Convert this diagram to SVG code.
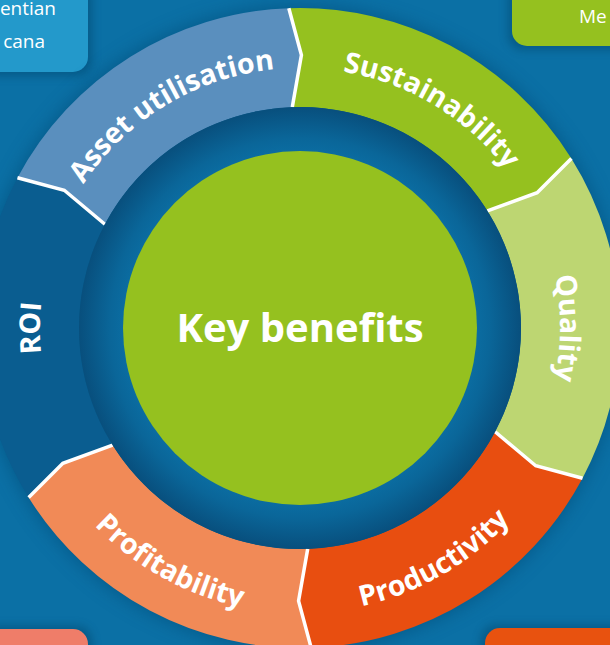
<svg xmlns="http://www.w3.org/2000/svg" width="610" height="645" viewBox="0 0 610 645">
<defs>
<style>
.lbl{font-family:"Open Sans","Noto Sans","Liberation Sans",sans-serif;font-weight:700;fill:#fff;font-size:28.5px}
.small{font-family:"Open Sans","Noto Sans","Liberation Sans",sans-serif;font-weight:400;fill:#fff;font-size:19px}
.sep{fill:none;stroke:#fff;stroke-width:3.5;stroke-linejoin:miter}
</style>
<radialGradient id="band" cx="300" cy="328" r="221" gradientUnits="userSpaceOnUse">
<stop offset="0.78" stop-color="#0b6ea3"/>
<stop offset="0.86" stop-color="#0a6699"/>
<stop offset="1" stop-color="#084f7d"/>
</radialGradient>
<filter id="blur" x="-20%" y="-20%" width="140%" height="140%"><feGaussianBlur stdDeviation="9"/></filter>
<filter id="bshadow" x="-30%" y="-30%" width="160%" height="160%"><feGaussianBlur stdDeviation="5"/></filter>
<path id="pAsset" d="M 40.04 332.54 A 260 260 0 0 1 426.05 100.60"/>
<path id="pSust" d="M 173.95 100.60 A 260 260 0 0 1 559.96 332.54"/>
<path id="pQual" d="M 430 102.83 A 260 260 0 0 1 430 553.17"/>
<path id="pROI" d="M 170 553.17 A 260 260 0 0 1 170 102.83"/>
<path id="pProd" d="M 157.5 574.82 A 285 285 0 0 0 585 328"/>
<path id="pProf" d="M 15.04 332.97 A 285 285 0 0 0 446.79 572.29"/>
</defs>
<rect x="0" y="0" width="610" height="645" fill="#0b70a5"/>

<g id="corner-boxes">
<g opacity="0.45" filter="url(#bshadow)" fill="#063f63">
<rect x="-20" y="-20" width="112" height="96" rx="15"/>
<rect x="508" y="-20" width="130" height="70" rx="15"/>
<rect x="-20" y="626" width="112" height="60" rx="15"/>
<rect x="481" y="625" width="160" height="60" rx="15"/>
</g>
<g id="box-tl"><rect x="-20" y="-20" width="108" height="92" rx="15" fill="#2399cb"/>
<text class="small" x="56" y="15" text-anchor="end">entian</text>
<text class="small" x="45" y="48" text-anchor="end">cana</text></g>
<g id="box-tr"><rect x="512" y="-20" width="120" height="66" rx="15" fill="#95c11f"/>
<text class="small" x="579" y="23">Me</text></g>
<g id="box-bl"><rect x="-20" y="629" width="108" height="60" rx="15" fill="#ef7d69"/></g>
<g id="box-br"><rect x="485" y="628" width="150" height="60" rx="15" fill="#e8520f"/></g>
</g>

<circle cx="300" cy="328" r="322" fill="#064a75" opacity="0.55" filter="url(#blur)"/>

<g id="seg-asset">
<path d="M 17.46 177.77 A 320 320 0 0 1 288.83 8.20 L 301.43 55.00 L 292.29 107.13 A 221 221 0 0 0 104.87 224.25 L 64.29 190.26 Z" fill="#5a8fbe"/>
<text class="lbl"><textPath href="#pAsset" startOffset="50%" text-anchor="middle">Asset utilisation</textPath></text>
</g>
<g id="seg-sustainability">
<path d="M 288.83 8.20 A 320 320 0 0 1 571.38 158.43 L 537.14 192.74 L 487.42 210.89 A 221 221 0 0 0 292.29 107.13 L 301.43 55.00 Z" fill="#95c11f"/>
<text class="lbl"><textPath href="#pSust" startOffset="50%" text-anchor="middle">Sustainability</textPath></text>
</g>
<g id="seg-quality">
<path d="M 571.38 158.43 A 320 320 0 0 1 582.54 478.23 L 535.71 465.74 L 495.13 431.75 A 221 221 0 0 0 487.42 210.89 L 537.14 192.74 Z" fill="#bdd672"/>
<text class="lbl"><textPath href="#pQual" startOffset="50%" text-anchor="middle">Quality</textPath></text>
</g>
<g id="seg-productivity">
<path d="M 582.54 478.23 A 320 320 0 0 1 311.17 647.80 L 298.57 601.00 L 307.71 548.87 A 221 221 0 0 0 495.13 431.75 L 535.71 465.74 Z" fill="#e84e10"/>
<text class="lbl"><textPath href="#pProd" startOffset="50%" text-anchor="middle">Productivity</textPath></text>
</g>
<g id="seg-profitability">
<path d="M 311.17 647.80 A 320 320 0 0 1 28.62 497.57 L 62.86 463.26 L 112.58 445.11 A 221 221 0 0 0 307.71 548.87 L 298.57 601.00 Z" fill="#f18a57"/>
<text class="lbl"><textPath href="#pProf" startOffset="50%" text-anchor="middle">Profitability</textPath></text>
</g>
<g id="seg-roi">
<path d="M 28.62 497.57 A 320 320 0 0 1 17.46 177.77 L 64.29 190.26 L 104.87 224.25 A 221 221 0 0 0 112.58 445.11 L 62.86 463.26 Z" fill="#0a5d90"/>
<text class="lbl"><textPath href="#pROI" startOffset="50%" text-anchor="middle">ROI</textPath></text>
</g>

<g id="separators">
<polyline class="sep" points="582.54,478.23 535.71,465.74 495.13,431.75"/>
<polyline class="sep" points="311.17,647.80 298.57,601.00 307.71,548.87"/>
<polyline class="sep" points="28.62,497.57 62.86,463.26 112.58,445.11"/>
<polyline class="sep" points="17.46,177.77 64.29,190.26 104.87,224.25"/>
<polyline class="sep" points="288.83,8.20 301.43,55.00 292.29,107.13"/>
<polyline class="sep" points="571.38,158.43 537.14,192.74 487.42,210.89"/>
</g>

<g id="center">
<circle cx="300" cy="328" r="221" fill="url(#band)"/>
<circle cx="300" cy="328" r="177" fill="#95c11f"/>
<text x="300" y="342" text-anchor="middle" font-family="'Open Sans','Noto Sans','Liberation Sans',sans-serif" font-weight="700" font-size="40" fill="#fff">Key benefits</text>
</g>
</svg>
